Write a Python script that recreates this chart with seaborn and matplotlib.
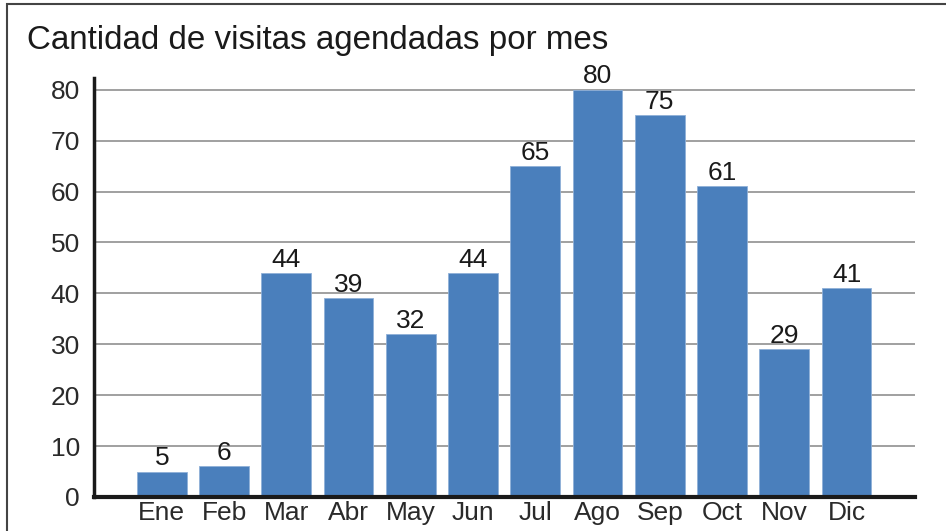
import matplotlib
matplotlib.use("Agg")
import matplotlib.pyplot as plt
import seaborn as sns
import pandas as pd
from matplotlib.patches import Rectangle

months = ["Ene", "Feb", "Mar", "Abr", "May", "Jun", "Jul", "Ago", "Sep", "Oct", "Nov", "Dic"]
visits = [5, 6, 44, 39, 32, 44, 65, 80, 75, 61, 29, 41]
yticks = [0, 10, 20, 30, 40, 50, 60, 70, 80]
title = "Cantidad de visitas agendadas por mes"

sns.set_theme(style="white")
plt.rcParams['font.family'] = ['Liberation Sans', 'DejaVu Sans']

df = pd.DataFrame({"mes": months, "visitas": visits})

fig = plt.figure(figsize=(9.46, 5.31), dpi=100)
ax = fig.add_axes([94/946, 1 - 497/531, (915-94)/946, (497-78)/531])

sns.barplot(data=df, x="mes", y="visitas", color="#4a7fbc", width=0.8,
            saturation=1, ax=ax, zorder=3, edgecolor="#8fb0d8", linewidth=0.6)

ax.set_xlim(-1.09, 12.1)
ax.set_ylim(0, 82.3)
ax.set_yticks(yticks)
ax.set_yticklabels([str(t) for t in yticks], fontsize=19, color="#2a2a2a")
ax.set_xticklabels(months, fontsize=19, color="#2a2a2a")
ax.tick_params(axis='both', length=0)
ax.tick_params(axis='x', pad=3)
ax.tick_params(axis='y', pad=10)
ax.set_xlabel("")
ax.set_ylabel("")
ax.grid(axis='y', color="#999999", linewidth=1.3, zorder=0)
ax.set_axisbelow(True)

for s in ["top", "right"]:
    ax.spines[s].set_visible(False)
ax.spines["left"].set_color("#1a1a1a")
ax.spines["left"].set_linewidth(2.5)
ax.spines["bottom"].set_color("#1a1a1a")
ax.spines["bottom"].set_linewidth(3)
ax.spines["left"].set_zorder(5)
ax.spines["bottom"].set_zorder(5)

for c in ax.containers:
    ax.bar_label(c, fontsize=19, color="#1a1a1a", padding=1)

fig.text(27/946, 1 - 40/531, title, fontsize=23.9, color="#1a1a1a",
         va="center", ha="left", fontweight="medium")

fig.patches.append(Rectangle((7/946, -0.1), 1.2, 1 - 4/531 + 0.1,
                             transform=fig.transFigure, fill=False,
                             edgecolor="#444444", linewidth=1.5))

fig.savefig("out.png", dpi=100)
